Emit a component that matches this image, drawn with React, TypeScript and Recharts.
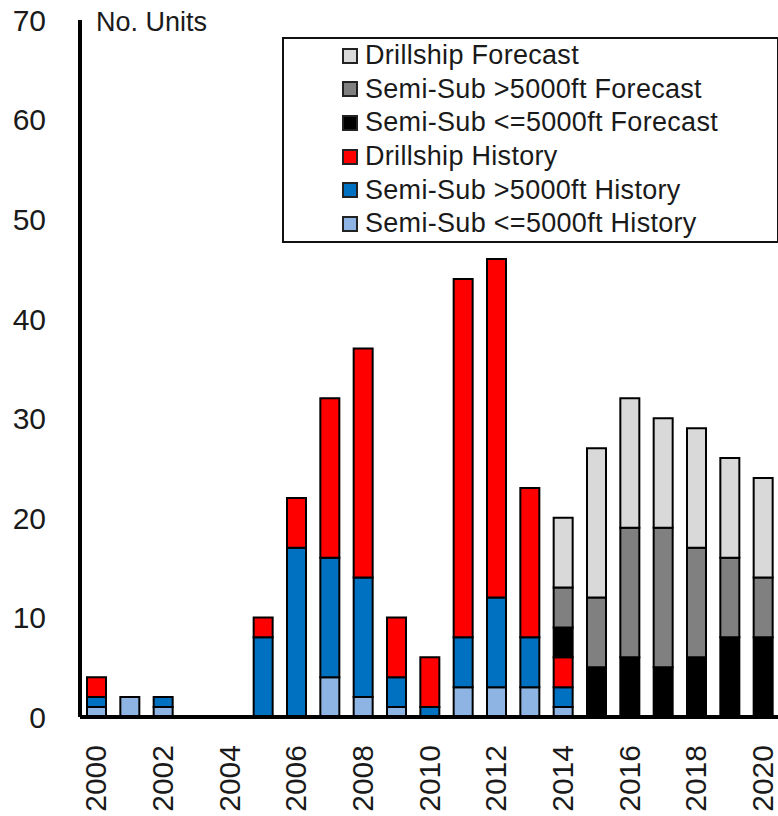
import { Bar, BarChart, XAxis, YAxis } from "recharts";

const FONT = "'Liberation Sans', Arial, sans-serif";

const years = [
  "2000", "2001", "2002", "2003", "2004", "2005", "2006", "2007", "2008", "2009", "2010",
  "2011", "2012", "2013", "2014", "2015", "2016", "2017", "2018", "2019", "2020",
];

// stacked bottom -> top
const semiSubLowHistory = [1, 2, 1, 0, 0, 0, 0, 4, 2, 1, 0, 3, 3, 3, 1, 0, 0, 0, 0, 0, 0];
const semiSubHighHistory = [1, 0, 1, 0, 0, 8, 17, 12, 12, 3, 1, 5, 9, 5, 2, 0, 0, 0, 0, 0, 0];
const drillshipHistory = [2, 0, 0, 0, 0, 2, 5, 16, 23, 6, 5, 36, 34, 15, 3, 0, 0, 0, 0, 0, 0];
const semiSubLowForecast = [0, 0, 0, 0, 0, 0, 0, 0, 0, 0, 0, 0, 0, 0, 3, 5, 6, 5, 6, 8, 8];
const semiSubHighForecast = [0, 0, 0, 0, 0, 0, 0, 0, 0, 0, 0, 0, 0, 0, 4, 7, 13, 14, 11, 8, 6];
const drillshipForecast = [0, 0, 0, 0, 0, 0, 0, 0, 0, 0, 0, 0, 0, 0, 7, 15, 13, 11, 12, 10, 10];

const yTicks = [0, 10, 20, 30, 40, 50, 60, 70];

const SERIES = [
  { key: "ssLowHist", name: "Semi-Sub <=5000ft History", color: "#8DB4E2", values: semiSubLowHistory },
  { key: "ssHighHist", name: "Semi-Sub >5000ft History", color: "#0070C0", values: semiSubHighHistory },
  { key: "dsHist", name: "Drillship History", color: "#FF0000", values: drillshipHistory },
  { key: "ssLowFc", name: "Semi-Sub <=5000ft Forecast", color: "#000000", values: semiSubLowForecast },
  { key: "ssHighFc", name: "Semi-Sub >5000ft Forecast", color: "#808080", values: semiSubHighForecast },
  { key: "dsFc", name: "Drillship Forecast", color: "#D9D9D9", values: drillshipForecast },
];

const rows = years.map((year, i) => {
  const row: Record<string, string | number> = { year };
  SERIES.forEach((s) => {
    row[s.key] = s.values[i];
  });
  return row;
});

function YTick({ x, y, payload }: any) {
  return (
    <text
      x={x - 26}
      y={y}
      dy="0.36em"
      textAnchor="end"
      fontSize={30}
      fontFamily={FONT}
      fill="#1a1a1a"
    >
      {payload.value}
    </text>
  );
}

function XTick({ x, y, payload }: any) {
  return (
    <text
      transform={`translate(${x - 1}, ${y + 20}) rotate(-90)`}
      dy="0.36em"
      textAnchor="end"
      fontSize={30}
      fontFamily={FONT}
      fill="#1a1a1a"
    >
      {payload.value}
    </text>
  );
}

function LegendBox() {
  const items = [...SERIES].reverse();
  return (
    <div
      style={{
        position: "absolute",
        left: 282,
        top: 37,
        boxSizing: "border-box",
        width: 497,
        height: 206,
        border: "2px solid #111",
        background: "#fff",
        paddingTop: 0,
        fontFamily: FONT,
      }}
    >
      {items.map((s) => (
        <div
          key={s.key}
          style={{
            display: "flex",
            alignItems: "center",
            height: 33.6,
            paddingLeft: 58,
            fontSize: 27,
            letterSpacing: 0.3,
            color: "#1a1a1a",
            whiteSpace: "nowrap",
          }}
        >
          <span
            style={{
              display: "inline-block",
              boxSizing: "border-box",
              width: 16,
              height: 16,
              marginRight: 7,
              background: s.color,
              border: "2px solid #222",
            }}
          />
          {s.name}
        </div>
      ))}
    </div>
  );
}

export default function App() {
  return (
    <div
      style={{
        position: "absolute",
        left: 0,
        top: 0,
        width: 778,
        height: 816,
        overflow: "hidden",
        background: "#fff",
      }}
    >
      <BarChart
        width={782}
        height={816}
        data={rows}
        margin={{ top: 20, right: 2, left: 0, bottom: 0 }}
        barSize={19}
        barCategoryGap={0}
      >
        <XAxis
          dataKey="year"
          interval={1}
          height={99}
          tickLine={false}
          axisLine={{ stroke: "#000", strokeWidth: 4 }}
          tick={<XTick />}
        />
        <YAxis
          width={80}
          domain={[0, 70]}
          ticks={yTicks}
          tickLine={false}
          axisLine={{ stroke: "#000", strokeWidth: 4 }}
          tick={<YTick />}
          label={{
            content: () => (
              <text x={96} y={31} fontSize={27} fontFamily={FONT} fill="#1a1a1a">
                No. Units
              </text>
            ),
          }}
        />
        {SERIES.map((s) => (
          <Bar
            key={s.key}
            dataKey={s.key}
            name={s.name}
            stackId="units"
            fill={s.color}
            stroke="#000"
            strokeWidth={2}
            isAnimationActive={false}
          />
        ))}
      </BarChart>
      <LegendBox />
    </div>
  );
}
